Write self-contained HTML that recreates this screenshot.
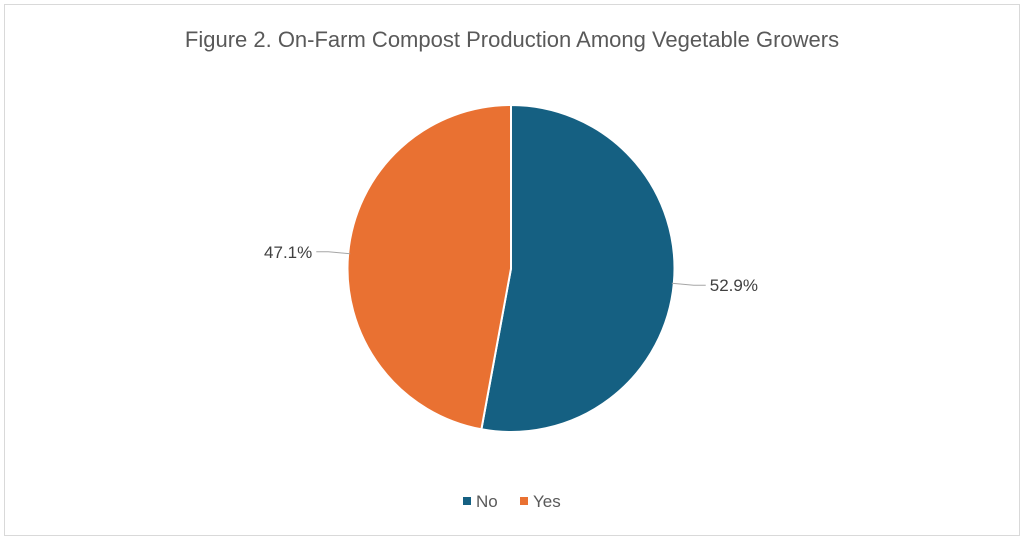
<!DOCTYPE html>
<html><head><meta charset="utf-8"><style>
body{margin:0;background:#fff;font-family:"Liberation Sans",sans-serif;}
</style></head><body>
<svg width="1024" height="541" viewBox="0 0 1024 541">
<rect x="4.5" y="4.5" width="1015" height="531" fill="#fff" stroke="#d9d9d9"/>
<text x="512" y="47" text-anchor="middle" font-size="22" fill="#595959">Figure 2. On-Farm Compost Production Among Vegetable Growers</text>
<g id="pie"></g>
<g>
<rect x="463" y="497" width="8" height="8" fill="#156082"/>
<text x="476" y="507" font-size="17" fill="#595959">No</text>
<rect x="520" y="497" width="8" height="8" fill="#e97132"/>
<text x="533" y="507" font-size="17" fill="#595959">Yes</text>
</g>
</svg>
<script>
const categories=["No","Yes"];
const values=[52.9,47.1];
const labels=["52.9%","47.1%"];
const colors=["#156082","#e97132"];
const cx=511,cy=268.5,r=163.5;
const ns="http://www.w3.org/2000/svg";
const g=document.getElementById("pie");
const total=values.reduce((a,b)=>a+b,0);
let a0=0;
function pt(a,rr){return [cx+rr*Math.sin(a),cy-rr*Math.cos(a)];}
values.forEach((v,i)=>{
  const a1=a0+v/total*2*Math.PI;
  const p0=pt(a0,r),p1=pt(a1,r);
  const large=(a1-a0)>Math.PI?1:0;
  const p=document.createElementNS(ns,"path");
  p.setAttribute("d",`M${cx},${cy}L${p0[0]},${p0[1]}A${r},${r} 0 ${large} 1 ${p1[0]},${p1[1]}Z`);
  p.setAttribute("fill",colors[i]);p.setAttribute("stroke","#fff");p.setAttribute("stroke-width","2");
  
  
  g.appendChild(p);
  const mid=(a0+a1)/2;
  const e=pt(mid,r-2),k=pt(mid,r+20);
  const right=Math.sin(mid)>0;
  const hx=right?k[0]+12:k[0]-12;
  const ln=document.createElementNS(ns,"polyline");
  ln.setAttribute("points",`${e[0]},${e[1]} ${k[0]},${k[1]} ${hx},${k[1]}`);
  ln.setAttribute("fill","none");ln.setAttribute("stroke","#a6a6a6");ln.setAttribute("stroke-width","1");
  
  
  g.appendChild(ln);
  const t=document.createElementNS(ns,"text");
  t.setAttribute("x",right?hx+4:hx-4);t.setAttribute("y",k[1]+6);
  t.setAttribute("text-anchor",right?"start":"end");
  t.setAttribute("font-size","17");t.setAttribute("fill","#404040");
  t.textContent=labels[i];
  
  
  g.appendChild(t);
  a0=a1;
});
</script>
</body></html>
